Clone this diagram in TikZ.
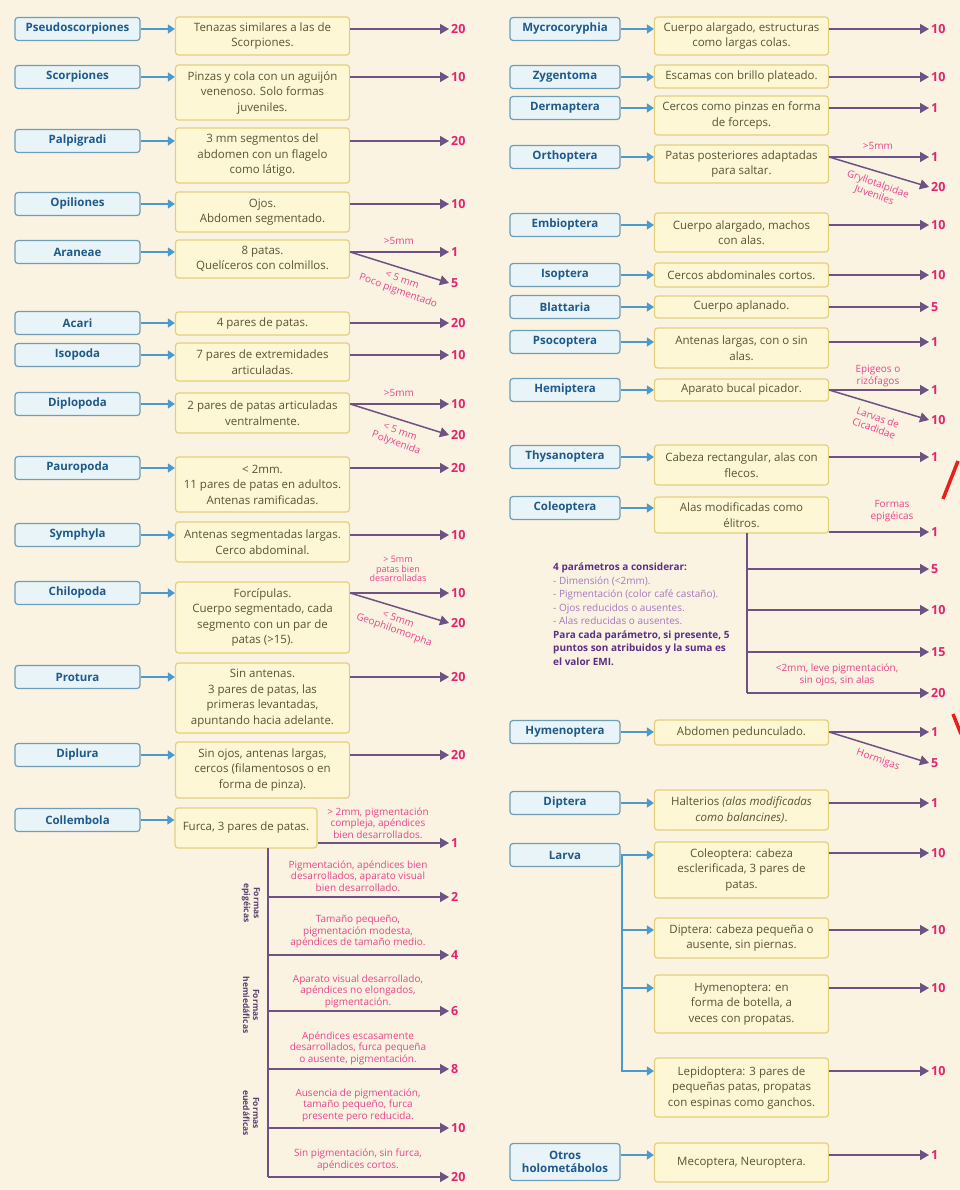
\documentclass[tikz,border=0pt]{standalone}
\usepackage{fontspec}
\setmainfont{Open Sans}
\usetikzlibrary{arrows.meta}

\definecolor{fondo}{HTML}{FAF3E2}
\definecolor{azulBorde}{HTML}{6E9DB8}
\definecolor{azulFondo}{HTML}{E8F4F7}
\definecolor{azulTexto}{HTML}{1F5A8C}
\definecolor{azulFlecha}{HTML}{4A9ACF}
\definecolor{amarBorde}{HTML}{E3D07C}
\definecolor{amarFondo}{HTML}{FDF7D6}
\definecolor{textoDesc}{HTML}{5E5232}
\definecolor{violeta}{HTML}{6E5283}
\definecolor{rosa}{HTML}{E2246E}
\definecolor{rosaEtiq}{HTML}{E8458A}
\definecolor{lila}{HTML}{5C2F86}
\definecolor{lilaClaro}{HTML}{A678BF}
\definecolor{formasTexto}{HTML}{5A4070}
\definecolor{rojo}{HTML}{E8201C}

\tikzset{
  grupo/.style={draw=azulBorde, fill=azulFondo, rounded corners=3pt, line width=1.2pt, text=azulTexto, font=\fontsize{11.5}{13}\selectfont\bfseries, minimum height=23pt, inner sep=1pt, align=center},
  descr/.style={draw=amarBorde, fill=amarFondo, rounded corners=3pt, line width=1.2pt, text=textoDesc, font=\fontsize{11.5}{15.5}\selectfont, inner sep=1pt, align=center},
  valor/.style={anchor=west, text=rosa, font=\fontsize{12.5}{14}\selectfont\bfseries, inner sep=2pt},
  etiq/.style={text=rosaEtiq, font=\fontsize{10}{11.5}\selectfont, align=center, inner sep=0pt},
  etiqchica/.style={text=rosaEtiq, font=\fontsize{9}{9.5}\selectfont, align=center, inner sep=0pt},
  formas/.style={text=formasTexto, font=\fontsize{8.5}{10}\selectfont\bfseries, align=center, rotate=-90, inner sep=0pt},
  info/.style={text=lilaClaro, font=\fontsize{10}{13.5}\selectfont, align=left, inner sep=0pt},
  flechaA/.style={draw=azulFlecha, line width=1.3pt, -{Triangle[length=7pt,width=9pt]}},
  flechaV/.style={draw=violeta, line width=1.5pt, -{Triangle[length=9pt,width=10pt]}},
  tronco/.style={draw=violeta, line width=1.5pt},
}

% grupo + descripcion: #1 id, #2 nombre, #3 y, #4 arriba, #5 abajo, #6 texto, #7 x grupo, #8 ancho grupo, #9 x descr
\newcommand{\filaGrupo}[9]{%
  \pgfmathsetmacro\ycentro{(#4+#5)/2}%
  \pgfmathsetmacro\alto{#5-#4}%
  \node[grupo, minimum width=#8pt] (g#1) at (#7,#3) {#2};
  \node[descr, minimum width=174pt, minimum height=\alto pt] (d#1) at (#9,\ycentro) {#6};
  \draw[flechaA] (g#1.east) -- (g#1.east -| d#1.west);
}
\newcommand{\izq}[6]{\filaGrupo{#1}{#2}{#3}{#4}{#5}{#6}{77.5}{125}{262.5}}
\newcommand{\der}[6]{\filaGrupo{#1}{#2}{#3}{#4}{#5}{#6}{565}{110}{741.5}}

\begin{document}
\begin{tikzpicture}[x=1pt, y=-1pt]
  \useasboundingbox (0,0) rectangle (960,1190);
  % Fondo
  \fill[fondo] (0,0) rectangle (960,1190);

  % Columna izquierda
  \izq{1}{Pseudoscorpiones}{29}{17}{55}{Tenazas similares a las de\\Scorpiones.}
  \izq{2}{Scorpiones}{77}{65}{120}{Pinzas y cola con un aguijón\\venenoso. Solo formas\\juveniles.}
  \izq{3}{Palpigradi}{141}{128}{183}{3 mm segmentos del\\abdomen con un flagelo\\como látigo.}
  \izq{4}{Opiliones}{204}{192}{232}{Ojos.\\Abdomen segmentado.}
  \izq{5}{Araneae}{252}{240}{278}{8 patas.\\Quelíceros con colmillos.}
  \izq{6}{Acari}{323}{312}{335}{4 pares de patas.}
  \izq{7}{Isopoda}{355}{343}{381}{7 pares de extremidades\\articuladas.}
  \izq{8}{Diplopoda}{404}{393}{433}{2 pares de patas articuladas\\ventralmente.}
  \izq{9}{Pauropoda}{468}{457}{512}{< 2mm.\\11 pares de patas en adultos.\\Antenas ramificadas.}
  \izq{10}{Symphyla}{535}{522}{562}{Antenas segmentadas largas.\\Cerco abdominal.}
  \izq{11}{Chilopoda}{593}{582}{653}{Forcípulas.\\Cuerpo segmentado, cada\\segmento con un par de\\patas (>15).}
  \izq{12}{Protura}{677}{663}{733}{Sin antenas.\\3 pares de patas, las\\primeras levantadas,\\apuntando hacia adelante.}
  \izq{13}{Diplura}{755}{742}{798}{Sin ojos, antenas largas,\\cercos (filamentosos o en\\forma de pinza).}
  \foreach \id/\ys/\ye/\val/\k in {1/29/29/20/a, 2/77/77/10/a, 3/141/141/20/a, 4/204/204/10/a,
    5/252/252/1/a, 5/252/283/5/b, 6/323/323/20/a, 7/355/355/10/a, 8/404/404/10/a, 8/404/435/20/b,
    9/468/468/20/a, 10/535/535/10/a, 11/593/593/10/a, 11/593/623/20/b, 12/677/677/20/a, 13/755/755/20/a}{
    \node[valor] (v\id\k) at (449,\ye) {\val};
    \draw[flechaV] (d\id.east |- 0,\ys) -- (v\id\k.west);
  }
  % Etiquetas de las ramas
  \node[etiq] (e5a) at (399,241) {>5mm};
  \node[etiq, rotate=-20] (e5b) at (400,286) {< 5 mm\\Poco pigmentado};
  \node[etiq] (e8a) at (399,393) {>5mm};
  \node[etiq, rotate=-20] (e8b) at (398,438) {< 5 mm\\Polyxenida};
  \node[etiqchica] (e11a) at (398,569) {> 5mm\\patas bien\\desarrolladas};
  \node[etiq, rotate=-20] (e11b) at (396,625) {< 5mm\\Geophilomorpha};

  % Collembola
  \node[grupo, minimum width=125pt] (g14) at (77.5,820) {Collembola};
  \node[descr, minimum width=142pt, minimum height=40pt] (d14) at (246,828) {Furca, 3 pares de patas.};
  \draw[flechaA] (g14.east) -- (g14.east -| d14.west);
  \coordinate (c0) at (268,848);
  \draw[tronco] (c0) -- (c0 |- 0,1177);
  \node[valor] (v14a) at (449,843) {1};
  \draw[flechaV] (d14.east |- v14a.west) -- (v14a.west);
  \foreach \k/\y/\val in {b/897/2, c/955/4, d/1011/6, e/1069/8, f/1128/10, g/1177/20}{
    \node[valor] (v14\k) at (449,\y) {\val};
    \draw[flechaV] (c0 |- v14\k.west) -- (v14\k.west);
  }
  \node[etiq] (ec1) at (378,823) {> 2mm, pigmentación\\compleja, apéndices\\bien desarrollados.};
  \node[etiq] (ec2) at (358,876) {Pigmentación, apéndices bien\\desarrollados, aparato visual\\bien desarrollado.};
  \node[etiq] (ec3) at (358,932) {Tamaño pequeño,\\pigmentación modesta,\\apéndices de tamaño medio.};
  \node[etiq] (ec4) at (358,991) {Aparato visual desarrollado,\\apéndices no elongados,\\pigmentación.};
  \node[etiq] (ec5) at (358,1048) {Apéndices escasamente\\desarrollados, furca pequeña\\o ausente, pigmentación.};
  \node[etiq] (ec6) at (358,1105) {Ausencia de pigmentación,\\tamaño pequeño, furca\\presente pero reducida.};
  \node[etiq] (ec7) at (358,1160) {Sin pigmentación, sin furca,\\apéndices cortos.};
  \node[formas] (f1) at (251,903) {Formas\\epigéicas};
  \node[formas] (f2) at (251,1005) {Formas\\hemiedáficas};
  \node[formas] (f3) at (251,1113) {Formas\\euedáficas};

  % Columna derecha
  \der{r1}{Mycrocoryphia}{29}{17}{55}{Cuerpo alargado, estructuras\\como largas colas.}
  \der{r2}{Zygentoma}{77}{65}{88}{Escamas con brillo plateado.}
  \der{r3}{Dermaptera}{108}{96}{135}{Cercos como pinzas en forma\\de forceps.}
  \der{r4}{Orthoptera}{157}{145}{183}{Patas posteriores adaptadas\\para saltar.}
  \der{r5}{Embioptera}{225}{213}{252}{Cuerpo alargado, machos\\con alas.}
  \der{r6}{Isoptera}{275}{263}{287}{Cercos abdominales cortos.}
  \der{r7}{Blattaria}{307}{296}{318}{Cuerpo aplanado.}
  \der{r8}{Psocoptera}{342}{328}{368}{Antenas largas, con o sin\\alas.}
  \der{r9}{Hemiptera}{390}{379}{401}{Aparato bucal picador.}
  \der{r10}{Thysanoptera}{457}{445}{485}{Cabeza rectangular, alas con\\flecos.}
  \der{r11}{Coleoptera}{508}{497}{533}{Alas modificadas como\\élitros.}
  \der{r12}{Hymenoptera}{732}{720}{745}{Abdomen pedunculado.}
  \der{r13}{Diptera}{803}{790}{830}{Halterios \textit{(alas modificadas}\\\textit{como balancines)}.}
  \der{r14}{Larva}{855}{842}{898}{Coleoptera: cabeza\\esclerificada, 3 pares de\\patas.}
  \foreach \id/\ys/\ye/\val/\k in {r1/29/29/10/a, r2/77/77/10/a, r3/108/108/1/a, r4/157/157/1/a,
    r4/157/187/20/b, r5/225/225/10/a, r6/275/275/10/a, r7/307/307/5/a, r8/342/342/1/a, r9/390/390/1/a,
    r9/390/420/10/b, r10/457/457/1/a, r11/532/532/1/a, r12/732/732/1/a, r12/732/763/5/b,
    r13/803/803/1/a, r14/853/853/10/a}{
    \node[valor] (v\id\k) at (929,\ye) {\val};
    \draw[flechaV] (d\id.east |- 0,\ys) -- (v\id\k.west);
  }
  \node[etiq] (er4a) at (878,146) {>5mm};
  \node[etiq, rotate=-20] (er4b) at (876,190) {Gryllotalpidae\\Juveniles};
  \node[etiq] (er9a) at (878,376) {Epigeos o\\rizófagos};
  \node[etiq, rotate=-20] (er9b) at (876,423) {Larvas de\\Cicadidae};
  \node[etiq] (er11a) at (892,511) {Formas\\epigéicas};
  \node[etiq, rotate=-20] (er12b) at (878,760) {Hormigas};

  % Coleoptera
  \coordinate (c1) at (747,533);
  \draw[tronco] (c1) -- (c1 |- 0,693);
  \foreach \k/\y/\val in {b/569/5, c/610/10, d/652/15, e/693/20}{
    \node[valor] (vr11\k) at (929,\y) {\val};
    \draw[flechaV] (c1 |- vr11\k.west) -- (vr11\k.west);
  }
  \node[etiq] (er11e) at (837,675) {<2mm, leve pigmentación,\\sin ojos, sin alas};
  \node[info, anchor=north west] (info) at (553,563) {\textcolor{lila}{\bfseries 4 parámetros a considerar:}\\
    - Dimensión (<2mm).\\
    - Pigmentación (color café castaño).\\
    - Ojos reducidos o ausentes.\\
    - Alas reducidas o ausentes.\\
    \textcolor{lila}{\bfseries Para cada parámetro, si presente, 5}\\
    \textcolor{lila}{\bfseries puntos son atribuidos y la suma es}\\
    \textcolor{lila}{\bfseries el valor EMI.}};

  % Larvas
  \node[descr, minimum width=174pt, minimum height=40pt] (dr14b) at (741.5,938) {Diptera: cabeza pequeña o\\ausente, sin piernas.};
  \node[descr, minimum width=174pt, minimum height=58pt] (dr14c) at (741.5,1004) {Hymenoptera: en\\forma de botella, a\\veces con propatas.};
  \node[descr, minimum width=174pt, minimum height=59pt] (dr14d) at (741.5,1087.5) {Lepidoptera: 3 pares de\\pequeñas patas, propatas\\con espinas como ganchos.};
  \coordinate (c2) at (622,855);
  \draw[flechaA] (c2) |- (dr14d.west |- 0,1071);
  \draw[flechaA] (c2 |- 0,930) -- (dr14b.west |- 0,930);
  \draw[flechaA] (c2 |- 0,988) -- (dr14c.west |- 0,988);
  \foreach \k/\y in {b/930, c/988, d/1071}{
    \node[valor] (vr14\k) at (929,\y) {10};
    \draw[flechaV] (dr14\k.east |- vr14\k.west) -- (vr14\k.west);
  }

  % Otros holometabolos
  \node[grupo, minimum width=110pt, minimum height=37pt] (gr15) at (565,1162) {Otros\\holometábolos};
  \node[descr, minimum width=174pt, minimum height=39pt] (dr15) at (741.5,1162.5) {Mecoptera, Neuroptera.};
  \draw[flechaA] (gr15.east |- 0,1155) -- (dr15.west |- 0,1155);
  \node[valor] (vr15a) at (929,1155) {1};
  \draw[flechaV] (dr15.east |- vr15a.west) -- (vr15a.west);

  % Trazos rojos
  \draw[rojo, line width=3.5pt] (943,499) -- (958,461);
  \draw[rojo, line width=3.5pt] (953,714) -- (961,734);
\end{tikzpicture}
\end{document}
